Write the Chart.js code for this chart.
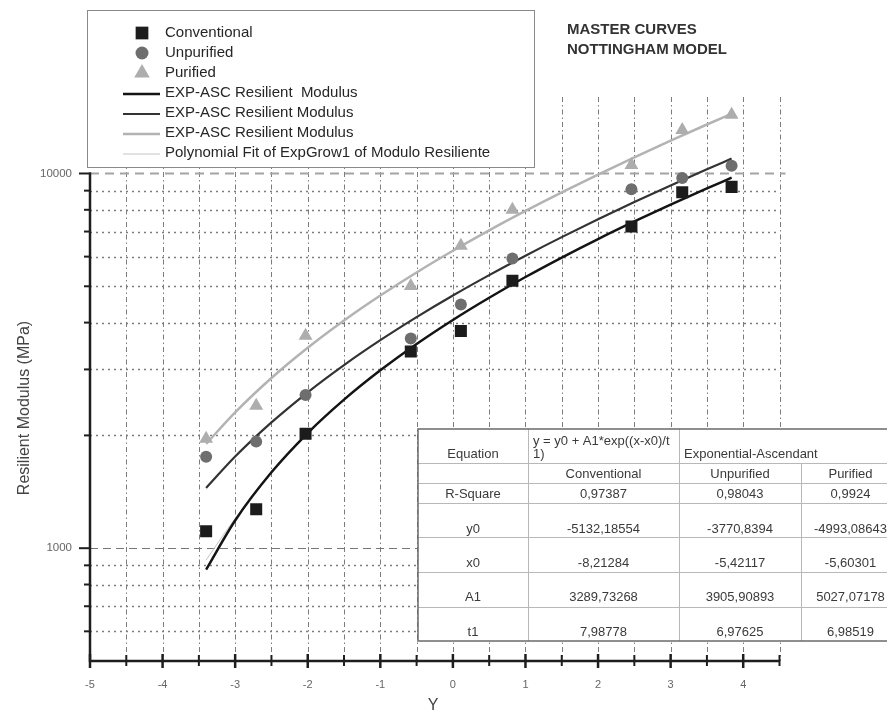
<!DOCTYPE html>
<html>
<head>
<meta charset="utf-8">
<script src="https://cdn.jsdelivr.net/npm/chart.js@4.4.0/dist/chart.umd.min.js"></script>
<style>
  html, body { margin: 0; padding: 0; background: #fff; }
  #wrap { width: 887px; height: 710px; position: relative; }
</style>
</head>
<body>
<div id="wrap"><canvas id="masterChart" width="887" height="710"></canvas></div>
<script>
// measured points (x = log reduced frequency, y = resilient modulus in MPa)
const xValues = [-3.40, -2.71, -2.03, -0.58, 0.11, 0.82, 2.46, 3.16, 3.84];
const conventional = [1110, 1270, 2020, 3350, 3800, 5170, 7220, 8910, 9210];
const unpurified = [1755, 1925, 2565, 3630, 4470, 5930, 9080, 9720, 10480];
const purified = [1960, 2400, 3690, 5010, 6410, 8000, 10540, 13070, 14350];

// fitted EXP-ASC curves
const fitX = [-3.4, -3.0, -2.5, -2.0, -1.5, -1.0, -0.5, 0, 0.5, 1.0, 1.5, 2.0, 2.5, 3.0, 3.5, 3.84];
const fitConventional = [877, 1186, 1594, 2029, 2491, 2983, 3508, 4066, 4660, 5293, 5966, 6683, 7446, 8259, 9123, 9744];
const fitUnpurified = [1448, 1756, 2166, 2607, 3081, 3590, 4137, 4725, 5356, 6034, 6763, 7546, 8387, 9290, 10260, 10961];
const fitPurified = [1898, 2304, 2846, 3427, 4052, 4723, 5444, 6219, 7051, 7944, 8904, 9936, 11043, 12233, 13512, 14435];
const polyX = [-3.4, -3.0, -2.0, -1.0, 0, 1.0, 2.0, 3.0, 3.84];
const polyFit = [930, 1200, 2030, 2990, 4070, 5290, 6680, 8260, 9740];

// axis ticks
const yTickValues = [500, 600, 700, 800, 900, 1000, 2000, 3000, 4000, 5000, 6000, 7000, 8000, 9000, 10000];
const yLabelled = [1000, 10000];

// fit results table
const tableSeries = ['Conventional', 'Unpurified', 'Purified'];
const tableRowLabels = ['R-Square', 'y0', 'x0', 'A1', 't1'];
const tableConventional = ['0,97387', '-5132,18554', '-8,21284', '3289,73268', '7,98778'];
const tableUnpurified = ['0,98043', '-3770,8394', '-5,42117', '3905,90893', '6,97625'];
const tablePurified = ['0,9924', '-4993,08643', '-5,60301', '5027,07178', '6,98519'];

const FONT = '"Liberation Sans", Arial, sans-serif';
Chart.defaults.font.family = FONT;

const pts = (xs, ys) => xs.map((x, i) => ({ x: x, y: ys[i] }));

function hline(ctx, x1, x2, y) {
  ctx.beginPath(); ctx.moveTo(x1, y); ctx.lineTo(x2, y); ctx.stroke();
}
function vline(ctx, x, y1, y2) {
  ctx.beginPath(); ctx.moveTo(x, y1); ctx.lineTo(x, y2); ctx.stroke();
}

function drawTable(ctx) {
  const cols = [418, 528, 679, 801, 900];
  const rows = [429, 463, 483, 503, 537, 572, 607, 641];
  const cx = i => (cols[i] + cols[i + 1]) / 2;
  ctx.save();
  ctx.fillStyle = '#fff';
  ctx.fillRect(cols[0], rows[0], cols[4] - cols[0], rows[7] - rows[0]);
  ctx.strokeStyle = '#b8b8b8';
  ctx.lineWidth = 1;
  for (let r = 1; r < 7; r++) hline(ctx, cols[0], cols[4], rows[r] + 0.5);
  vline(ctx, cols[1] + 0.5, rows[0], rows[7]);
  vline(ctx, cols[2] + 0.5, rows[0], rows[7]);
  vline(ctx, cols[3] + 0.5, rows[1], rows[7]);
  ctx.strokeStyle = '#6a6a6a';
  ctx.lineWidth = 1.5;
  ctx.strokeRect(cols[0], rows[0], cols[4] - cols[0], rows[7] - rows[0]);

  ctx.fillStyle = '#3a3a3a';
  ctx.font = '13px ' + FONT;
  ctx.textBaseline = 'middle';
  ctx.textAlign = 'center';
  ctx.fillText('Equation', cx(0), 454);
  ctx.textAlign = 'left';
  ctx.fillText('y = y0 + A1*exp((x-x0)/t', 533, 441);
  ctx.fillText('1)', 533, 454);
  ctx.fillText('Exponential-Ascendant', 684, 454);
  ctx.textAlign = 'center';
  tableSeries.forEach((s, i) => ctx.fillText(s, cx(i + 1), 474));
  const rowY = [494, 529, 563, 597, 632];
  tableRowLabels.forEach((lab, r) => {
    ctx.fillText(lab, cx(0), rowY[r]);
    ctx.fillText(tableConventional[r], cx(1), rowY[r]);
    ctx.fillText(tableUnpurified[r], cx(2), rowY[r]);
    ctx.fillText(tablePurified[r], cx(3), rowY[r]);
  });
  ctx.restore();
}

function drawLegend(chart) {
  const ctx = chart.ctx;
  ctx.save();
  ctx.fillStyle = '#fff';
  ctx.fillRect(87, 10, 447, 157);
  ctx.strokeStyle = '#8a8a8a';
  ctx.lineWidth = 1;
  ctx.strokeRect(87.5, 10.5, 447, 157);
  ctx.font = '15px ' + FONT;
  ctx.textBaseline = 'middle';
  ctx.textAlign = 'left';
  chart.data.datasets.forEach((ds, i) => {
    const y = 33 + i * 20;
    if (ds.showLine) {
      ctx.strokeStyle = ds.borderColor;
      ctx.lineWidth = ds.borderWidth;
      hline(ctx, 123, 160, y + 1);
    } else {
      ctx.fillStyle = ds.backgroundColor;
      Chart.helpers.drawPoint(ctx, {
        pointStyle: ds.pointStyle, radius: ds.legendRadius, borderWidth: 0, rotation: 0
      }, 142, y);
    }
    ctx.fillStyle = '#262626';
    ctx.fillText(ds.label, 165, y);
  });
  ctx.restore();
}

const decor = {
  id: 'decor',
  beforeDatasetsDraw(chart) {
    const { ctx, chartArea: a, scales: { x, y } } = chart;
    ctx.save();
    // vertical grid every 0.5
    ctx.strokeStyle = '#7c7c7c';
    ctx.lineWidth = 1;
    ctx.setLineDash([5, 3, 1.5, 3]);
    x.ticks.forEach(t => {
      if (t.value <= x.min) return;
      const px = Math.round(x.getPixelForValue(t.value)) + 0.5;
      vline(ctx, px, a.top, a.bottom);
    });
    // horizontal grid
    y.ticks.forEach(t => {
      if (t.value <= y.min) return;
      const py = Math.round(y.getPixelForValue(t.value)) + 0.5;
      if (t.value === 10000) {
        ctx.setLineDash([9, 6]); ctx.strokeStyle = '#a4a4a4'; ctx.lineWidth = 2;
        hline(ctx, a.left, a.right + 6, py);
      } else if (t.value === 1000) {
        ctx.setLineDash([8, 5]); ctx.strokeStyle = '#777'; ctx.lineWidth = 1.2;
        hline(ctx, a.left, a.right + 3, py);
      } else {
        ctx.setLineDash([2, 4]); ctx.strokeStyle = '#7c7c7c'; ctx.lineWidth = 1.3;
        hline(ctx, a.left, a.right, py);
      }
    });
    ctx.restore();
  },
  afterDatasetsDraw(chart) {
    const { ctx, chartArea: a, scales: { x, y } } = chart;
    ctx.save();
    ctx.strokeStyle = '#1e1e1e';
    // axes
    ctx.lineWidth = 2.5;
    vline(ctx, a.left, a.bottom + 1, y.getPixelForValue(10000) - 1);
    hline(ctx, a.left - 1, a.right, a.bottom);
    // y ticks
    ctx.lineWidth = 2;
    y.ticks.forEach(t => {
      if (t.value <= y.min) return;
      const py = y.getPixelForValue(t.value);
      const len = yLabelled.includes(t.value) ? 11 : 6;
      hline(ctx, a.left - len, a.left + 1, py);
    });
    // x ticks
    x.ticks.forEach(t => {
      const px = x.getPixelForValue(t.value);
      const major = Number.isInteger(t.value);
      ctx.lineWidth = major ? 2.5 : 2;
      vline(ctx, px, a.bottom - (major ? 7 : 6), a.bottom + (major ? 7 : 5));
    });
    ctx.restore();

    drawTable(ctx);
    drawLegend(chart);

    ctx.save();
    ctx.fillStyle = '#333';
    ctx.font = 'bold 15px ' + FONT;
    ctx.textBaseline = 'middle';
    ctx.textAlign = 'left';
    ctx.fillText('MASTER CURVES', 567, 30);
    ctx.fillText('NOTTINGHAM MODEL', 567, 50);

    ctx.fillStyle = '#444';
    ctx.font = '16px ' + FONT;
    ctx.textAlign = 'center';
    ctx.fillText('Y', 433, 706);
    ctx.translate(25, 408);
    ctx.rotate(-Math.PI / 2);
    ctx.fillText('Resilient Modulus (MPa)', 0, 0);
    ctx.restore();
  }
};

new Chart(document.getElementById('masterChart'), {
  type: 'scatter',
  data: {
    datasets: [
      {
        label: 'Conventional', data: pts(xValues, conventional),
        pointStyle: 'rect', pointRadius: 8.5, legendRadius: 9,
        backgroundColor: '#1c1c1c', borderColor: '#1c1c1c', borderWidth: 0
      },
      {
        label: 'Unpurified', data: pts(xValues, unpurified),
        pointStyle: 'circle', pointRadius: 6, legendRadius: 6.5,
        backgroundColor: '#6e6e6e', borderColor: '#6e6e6e', borderWidth: 0
      },
      {
        label: 'Purified', data: pts(xValues, purified),
        pointStyle: 'triangle', pointRadius: 8, legendRadius: 9,
        backgroundColor: '#adadad', borderColor: '#adadad', borderWidth: 0
      },
      {
        label: 'EXP-ASC Resilient  Modulus', data: pts(fitX, fitConventional),
        showLine: true, pointRadius: 0, borderColor: '#141414', borderWidth: 2.5,
        cubicInterpolationMode: 'monotone'
      },
      {
        label: 'EXP-ASC Resilient Modulus', data: pts(fitX, fitUnpurified),
        showLine: true, pointRadius: 0, borderColor: '#333333', borderWidth: 2.2,
        cubicInterpolationMode: 'monotone'
      },
      {
        label: 'EXP-ASC Resilient Modulus', data: pts(fitX, fitPurified),
        showLine: true, pointRadius: 0, borderColor: '#b3b3b3', borderWidth: 2.5,
        cubicInterpolationMode: 'monotone'
      },
      {
        label: 'Polynomial Fit of ExpGrow1 of Modulo Resiliente', data: pts(polyX, polyFit),
        showLine: true, pointRadius: 0, borderColor: '#c4c4c4', borderWidth: 1,
        cubicInterpolationMode: 'monotone'
      }
    ]
  },
  options: {
    responsive: false,
    animation: false,
    layout: { padding: { top: 97, right: 107.5, left: 0, bottom: 0 } },
    plugins: {
      legend: { display: false },
      tooltip: { enabled: false },
      title: { display: false }
    },
    scales: {
      x: {
        type: 'linear',
        min: -5,
        max: 4.5,
        grid: { display: false, drawTicks: false },
        border: { display: false },
        ticks: {
          stepSize: 0.5,
          autoSkip: false,
          maxRotation: 0,
          padding: 17,
          color: '#666',
          font: { size: 11 },
          callback: v => Number.isInteger(v) ? String(v) : ''
        },
        afterFit: s => { s.height = 49; }
      },
      y: {
        type: 'logarithmic',
        min: 500,
        max: 16000,
        grid: { display: false, drawTicks: false },
        border: { display: false },
        afterBuildTicks: s => { s.ticks = yTickValues.map(v => ({ value: v })); },
        ticks: {
          autoSkip: false,
          padding: 18,
          color: '#666',
          font: { size: 11.5 },
          callback: v => yLabelled.includes(v) ? String(v) : ''
        },
        afterFit: s => { s.width = 90; }
      }
    }
  },
  plugins: [decor]
});
</script>
</body>
</html>
